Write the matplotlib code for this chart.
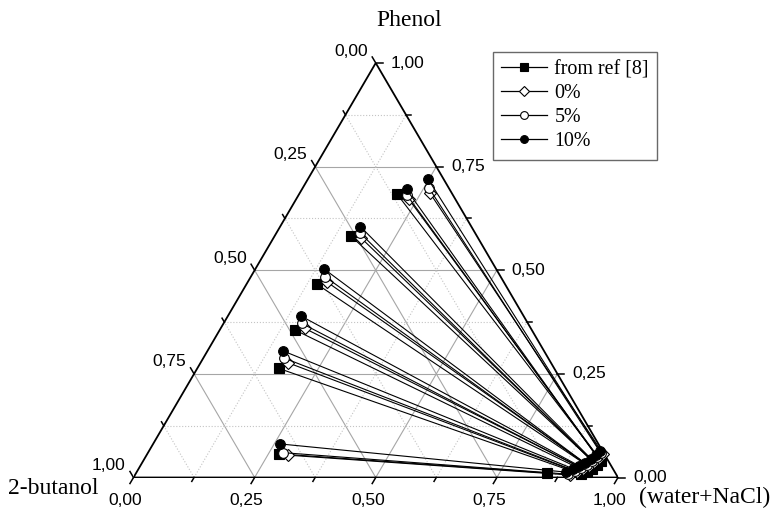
import numpy as np
import matplotlib.pyplot as plt
from matplotlib.lines import Line2D

# tie-line data, mass fractions (w = water+NaCl, p = phenol), 2-butanol = 1 - w - p
# organic (butanol-rich) phase
ref_org_w = [0.272, 0.169, 0.155, 0.146, 0.157, 0.203]
ref_org_p = [0.057, 0.263, 0.356, 0.466, 0.583, 0.683]
s0_org_w = [0.291, 0.180, 0.173, 0.163, 0.182, 0.233, 0.269]
s0_org_p = [0.054, 0.277, 0.360, 0.472, 0.577, 0.671, 0.686]
s5_org_w = [0.278, 0.167, 0.161, 0.154, 0.174, 0.223, 0.261]
s5_org_p = [0.060, 0.288, 0.372, 0.484, 0.589, 0.682, 0.698]
s10_org_w = [0.262, 0.157, 0.150, 0.142, 0.166, 0.216, 0.249]
s10_org_p = [0.081, 0.305, 0.390, 0.503, 0.605, 0.695, 0.719]

# aqueous phase
ref_aq_w = [0.848, 0.919, 0.929, 0.936, 0.941, 0.945]
ref_aq_p = [0.011, 0.008, 0.013, 0.021, 0.030, 0.040]
s0_aq_w = [0.898, 0.909, 0.918, 0.926, 0.932, 0.937, 0.941]
s0_aq_p = [0.006, 0.013, 0.021, 0.028, 0.037, 0.047, 0.057]
s5_aq_w = [0.893, 0.903, 0.912, 0.921, 0.926, 0.932, 0.935]
s5_aq_p = [0.008, 0.016, 0.023, 0.030, 0.040, 0.050, 0.059]
s10_aq_w = [0.886, 0.897, 0.906, 0.914, 0.922, 0.927, 0.931]
s10_aq_p = [0.013, 0.021, 0.028, 0.035, 0.045, 0.054, 0.064]

labels = ["from ref [8]", "0%", "5%", "10%"]
major = [0.0, 0.25, 0.5, 0.75, 1.0]
tick_text = ["0,00", "0,25", "0,50", "0,75", "1,00"]
minor = [0.125, 0.375, 0.625, 0.875]

SANS = "Liberation Sans"
SERIF = "Liberation Serif"

W_PX, H_PX = 484.5, 414.5


def tern(w, p):
    w = np.asarray(w, float)
    p = np.asarray(p, float)
    return w + 0.5 * p, p


def px(dx, dy):
    # pixel offset -> data offset
    return dx / W_PX, dy / H_PX


fig = plt.figure(figsize=(7.71, 5.08), dpi=100)
ax = fig.add_axes([133.5 / 771, 30.5 / 508, W_PX / 771, H_PX / 508])
ax.set_xlim(0, 1)
ax.set_ylim(0, 1)
ax.axis("off")

# grid
for vals, style, col in [(major[1:-1], "-", "#a6a6a6"), (minor, ":", "#c4c4c4")]:
    for v in vals:
        # constant phenol
        x, y = tern([0, 1 - v], [v, v])
        ax.plot(x, y, ls=style, color=col, lw=0.8, zorder=1)
        # constant water
        x, y = tern([v, v], [0, 1 - v])
        ax.plot(x, y, ls=style, color=col, lw=0.8, zorder=1)
        # constant butanol
        x, y = tern([1 - v, 0], [0, 1 - v])
        ax.plot(x, y, ls=style, color=col, lw=0.8, zorder=1)

# triangle frame
x, y = tern([0, 1, 0, 0], [0, 0, 1, 0])
ax.plot(x, y, color="black", lw=1.3, zorder=2, solid_joinstyle="miter")

# ticks
d_bot = (-0.507, -0.862)
d_left = (-0.507, 0.862)
d_right = (1.0, 0.0)
for vals, ln in [(major, 7), (minor, 4.5)]:
    for v in vals:
        # bottom: water
        x0, y0 = tern(v, 0)
        ddx, ddy = px(d_bot[0] * ln, d_bot[1] * ln)
        ax.plot([x0, x0 + ddx], [y0, y0 + ddy], color="black", lw=1.1, clip_on=False)
        # right: phenol
        x0, y0 = tern(1 - v, v)
        ddx, ddy = px(d_right[0] * ln, d_right[1] * ln)
        ax.plot([x0, x0 + ddx], [y0, y0 + ddy], color="black", lw=1.1, clip_on=False)
        # left: butanol
        x0, y0 = tern(0, 1 - v)
        ddx, ddy = px(d_left[0] * ln, d_left[1] * ln)
        ax.plot([x0, x0 + ddx], [y0, y0 + ddy], color="black", lw=1.1, clip_on=False)

for v, t in zip(major, tick_text):
    x0, y0 = tern(v, 0)
    ax.annotate(t, (x0, y0), xytext=(-8, -23), textcoords="offset pixels",
                ha="center", va="center", fontsize=12.5, family=SANS)
    x0, y0 = tern(1 - v, v)
    ax.annotate(t, (x0, y0), xytext=(15, 0), textcoords="offset pixels",
                ha="left", va="center", fontsize=12.5, family=SANS)
    x0, y0 = tern(0, 1 - v)
    ax.annotate(t, (x0, y0), xytext=(-8, 12), textcoords="offset pixels",
                ha="right", va="center", fontsize=12.5, family=SANS)

# corner titles
x0, y0 = tern(0, 1)
ax.annotate("Phenol", (x0, y0), xytext=(33, 42), textcoords="offset pixels",
            ha="center", va="center", fontsize=17, family=SERIF)
x0, y0 = tern(0, 0)
ax.annotate("2-butanol", (x0, y0), xytext=(-80, -11), textcoords="offset pixels",
            ha="center", va="center", fontsize=17, family=SERIF)
x0, y0 = tern(1, 0)
ax.annotate("(water+NaCl)", (x0, y0), xytext=(87, -20), textcoords="offset pixels",
            ha="center", va="center", fontsize=17, family=SERIF)

# tie lines
series = [
    (ref_org_w, ref_org_p, ref_aq_w, ref_aq_p, "s", "black", 6.5),
    (s0_org_w, s0_org_p, s0_aq_w, s0_aq_p, "D", "white", 5.8),
    (s5_org_w, s5_org_p, s5_aq_w, s5_aq_p, "o", "white", 7.0),
    (s10_org_w, s10_org_p, s10_aq_w, s10_aq_p, "o", "black", 7.0),
]
handles = []
for i, (ow, op, aw, ap, mk, fc, ms) in enumerate(series):
    xo, yo = tern(ow, op)
    xa, ya = tern(aw, ap)
    for j in range(len(xo)):
        ax.plot([xo[j], xa[j]], [yo[j], ya[j]], color="black", lw=0.8,
                marker=mk, mfc=fc, mec="black", mew=0.8, ms=ms,
                zorder=3 + i, clip_on=False)
    handles.append(Line2D([], [], color="black", lw=0.9, marker=mk, mfc=fc,
                          mec="black", mew=0.8, ms=ms * 0.8))

leg = fig.legend(handles, labels, loc="upper left",
                 bbox_to_anchor=(493 / 771, 1 - 52 / 508), borderaxespad=0,
                 frameon=True, fancybox=False, handlelength=2.3,
                 handletextpad=0.35, labelspacing=0.25, borderpad=0.42,
                 prop={"family": SERIF, "size": 14.4})
leg.get_frame().set_edgecolor("#444444")
leg.get_frame().set_linewidth(1.0)

fig.savefig("out.png", dpi=100)
